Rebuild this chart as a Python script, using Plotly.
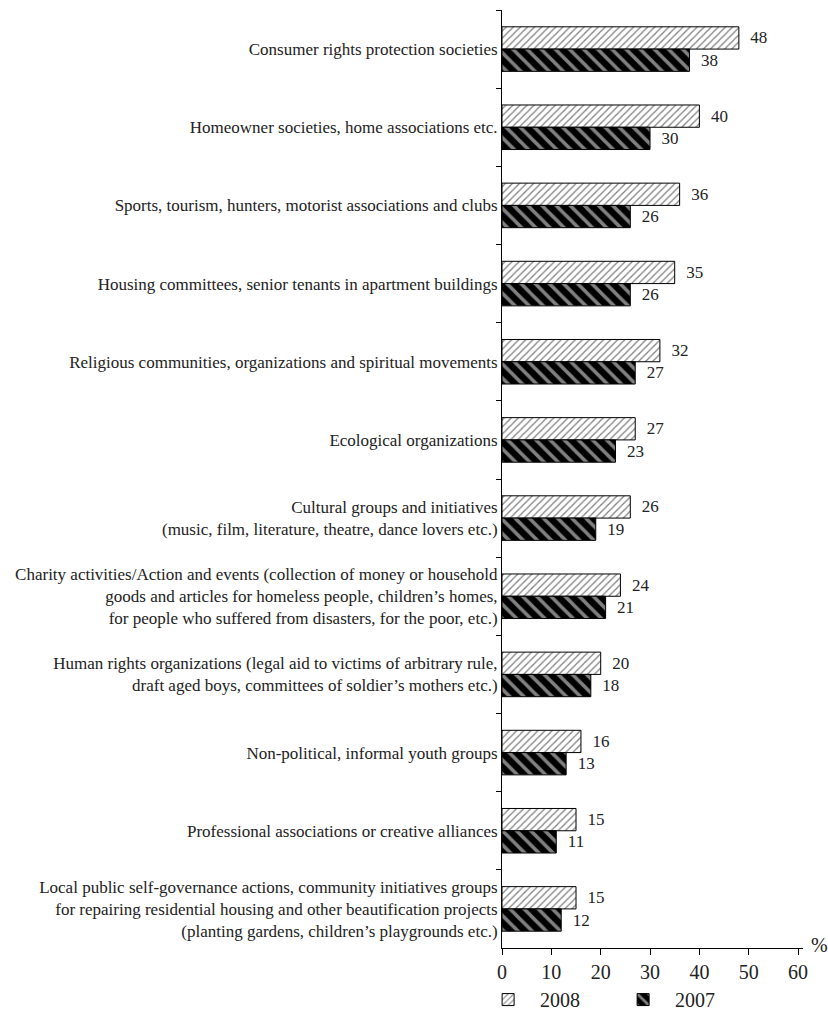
import plotly.graph_objects as go

categories = [
    "Consumer rights protection societies",
    "Homeowner societies, home associations etc.",
    "Sports, tourism, hunters, motorist associations and clubs",
    "Housing committees, senior tenants in apartment buildings",
    "Religious communities, organizations and spiritual movements",
    "Ecological organizations",
    "Cultural groups and initiatives<br>(music, film, literature, theatre, dance lovers etc.)",
    "Charity activities/Action and events (collection of money or household<br>goods and articles for homeless people, children’s homes,<br>for people who suffered from disasters, for the poor, etc.)",
    "Human rights organizations (legal aid to victims of arbitrary rule,<br>draft aged boys, committees of soldier’s mothers etc.)",
    "Non-political, informal youth groups",
    "Professional associations or creative alliances",
    "Local public self-governance actions, community initiatives groups<br>for repairing residential housing and other beautification projects<br>(planting gardens, children’s playgrounds etc.)",
]
values_2008 = [48, 40, 36, 35, 32, 27, 26, 24, 20, 16, 15, 15]
values_2007 = [38, 30, 26, 26, 27, 23, 19, 21, 18, 13, 11, 12]
x_ticks = [0, 10, 20, 30, 40, 50, 60]

FONT = "Liberation Serif, Times New Roman, serif"

fig = go.Figure()
fig.add_trace(go.Bar(
    name="2008", y=categories, x=values_2008, orientation="h",
    marker=dict(color="white", line=dict(color="black", width=1),
                pattern=dict(shape="/", fgcolor="black", bgcolor="white", size=5, solidity=0.25)),
    text=["  " + str(v) for v in values_2008], textposition="outside",
    textfont=dict(family=FONT, size=17, color="#222"), cliponaxis=False,
))
fig.add_trace(go.Bar(
    name="2007", y=categories, x=values_2007, orientation="h",
    marker=dict(color="black", line=dict(color="black", width=1),
                pattern=dict(shape="\\", fgcolor="white", bgcolor="black", size=10, solidity=0.35)),
    text=["  " + str(v) for v in values_2007], textposition="outside",
    textfont=dict(family=FONT, size=17, color="#222"), cliponaxis=False,
))

fig.update_layout(
    width=828, height=1010,
    margin=dict(l=502, r=25, t=10, b=62, autoexpand=False),
    paper_bgcolor="white", plot_bgcolor="white",
    barmode="group", bargap=0.43, bargroupgap=0,
    font=dict(family=FONT, color="#222"),
    showlegend=True,
    legend=dict(orientation="h", x=-0.086, xanchor="left", y=-0.055, yanchor="middle",
                font=dict(family=FONT, size=20), itemwidth=54, entrywidth=66,
                traceorder="normal"),
    annotations=[dict(text="%", x=1.0, y=0, xref="paper", yref="paper", xanchor="left",
                      yanchor="middle", showarrow=False, xshift=6, yshift=3,
                      font=dict(family=FONT, size=20))],
)
fig.update_xaxes(range=[0, 61], tickvals=x_ticks, showline=True, linecolor="black", linewidth=1,
                 ticks="outside", ticklen=6, tickcolor="black", showgrid=False, zeroline=False,
                 tickfont=dict(family=FONT, size=20), automargin=False)
fig.update_yaxes(autorange="reversed", showline=True, linecolor="black", linewidth=1,
                 ticks="outside", ticklen=5, tickcolor="black", tickson="boundaries",
                 showgrid=False, tickfont=dict(family=FONT, size=17), automargin=False)

fig.write_html(
    "out.html",
    config={"displayModeBar": False},
    post_script="document.body.style.margin='0px';document.body.style.overflow='hidden';",
)
